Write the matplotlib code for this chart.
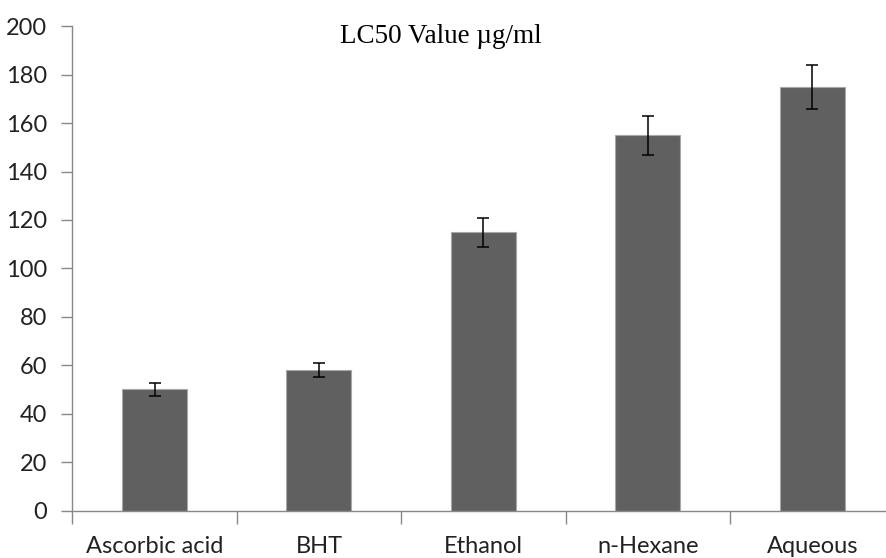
import matplotlib.pyplot as plt
import numpy as np

# LC50 values with error bars
names = ["Ascorbic acid", "BHT", "Ethanol", "n-Hexane", "Aqueous"]
lc50 = [50, 58, 115, 155, 175]
err = [2.5, 3, 6, 8, 9]
yticks = [0, 20, 40, 60, 80, 100, 120, 140, 160, 180, 200]

fig = plt.figure(figsize=(8.87, 5.58), dpi=100)
ax = fig.add_axes([0.0815, 0.085, 0.927, 0.868])

x = np.arange(len(names))
ax.bar(x, lc50, width=0.395, color="#606060", edgecolor="#a8a8a8", linewidth=0.8, zorder=2)
ax.errorbar(x, lc50, yerr=err, fmt="none", ecolor="black", elinewidth=1.1, capsize=4.5, capthick=1.1, zorder=3)

ax.set_xlim(-0.5, len(names) - 0.5)
ax.set_ylim(0, 200)
ax.set_yticks(yticks)
ax.set_yticklabels([str(v) for v in yticks], fontsize=17, family="Lato", color="#222222")

# category labels centred, tick marks between categories
ax.set_xticks(x)
ax.set_xticklabels(names, fontsize=17, family="Lato", color="#222222")
ax.tick_params(axis="x", which="major", length=0, pad=18)
ax.set_xticks(np.arange(-0.5, len(names) + 0.5, 1), minor=True)
ax.tick_params(axis="x", which="minor", length=9, color="#888888", width=1)
ax.tick_params(axis="y", length=8, color="#888888", width=1, pad=10)

for s in ["top", "right"]:
    ax.spines[s].set_visible(False)
for s in ["left", "bottom"]:
    ax.spines[s].set_color("#888888")
    ax.spines[s].set_linewidth(1)

fig.text(0.497, 0.935, "LC50 Value µg/ml", ha="center", va="center", fontsize=19.5, family="Liberation Serif")

fig.savefig("out.png", dpi=100)
